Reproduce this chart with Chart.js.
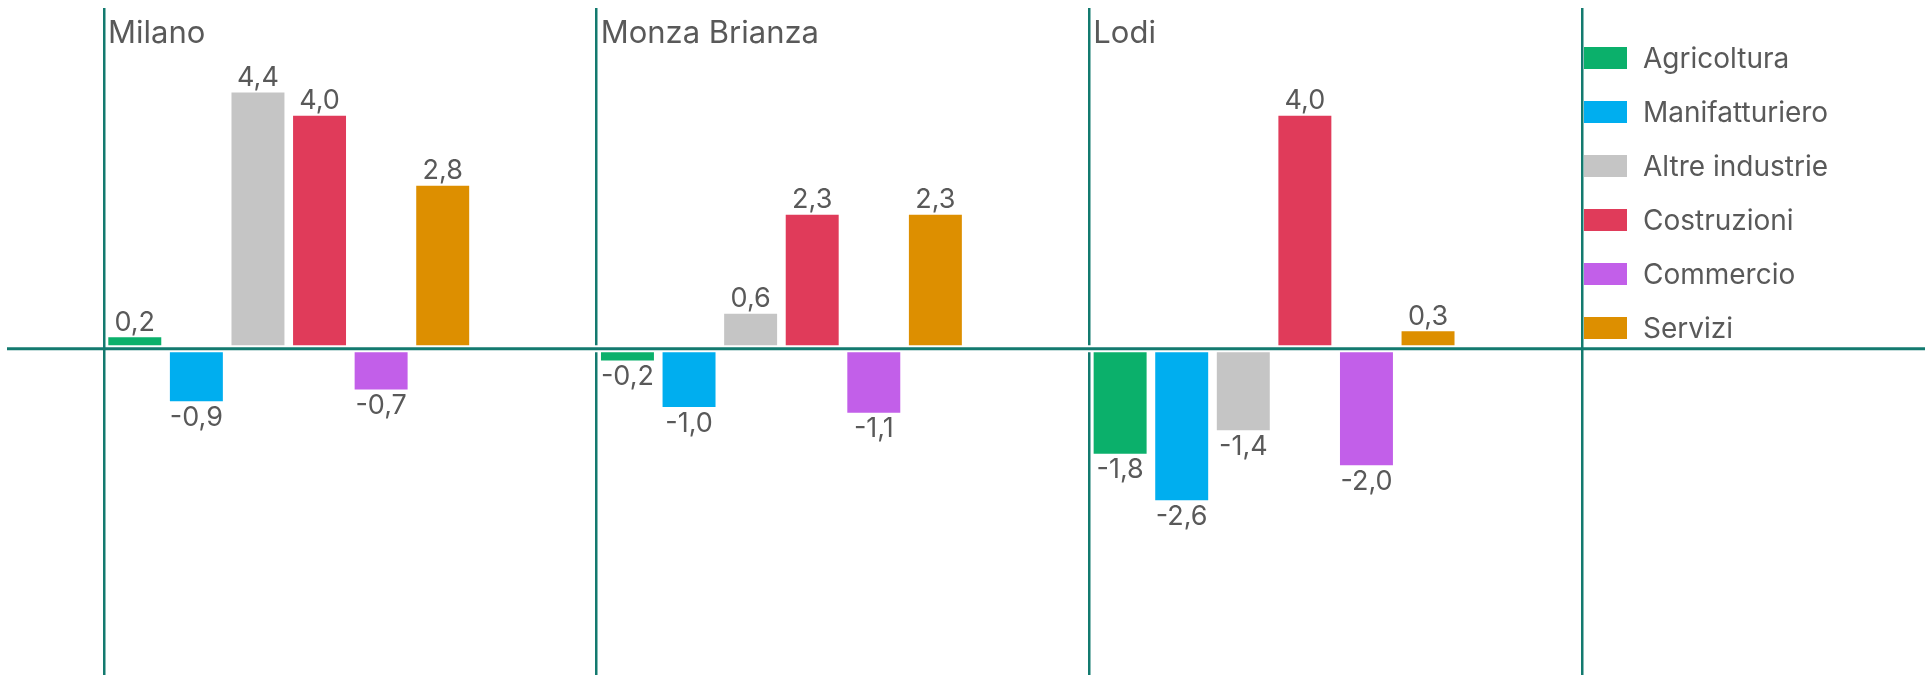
<!DOCTYPE html>
<html>
<head>
<meta charset="utf-8">
<script src="https://cdn.jsdelivr.net/npm/chart.js@4.4.1/dist/chart.umd.min.js"></script>
<style>
    html, body { margin: 0; padding: 0; background: #fff; }
    #wrap { position: relative; width: 1925px; height: 675px; }
    #legend { position: absolute; left: 1584px; top: 47px; font-family: Inter, sans-serif; font-size: 28px; color: #595959; }
    .item { display: flex; align-items: center; height: 22px; margin-bottom: 32px; white-space: nowrap; }
    .box { width: 43px; height: 22px; margin-right: 16px; flex: none; }
</style>
</head>
<body>
<div id="wrap">
    <canvas id="myChart" width="1925" height="675"></canvas>
    <div id="legend"></div>
</div>
<script>
// dati: variazione per settore e provincia
var regions = ['Milano', 'Monza Brianza', 'Lodi'];
var sectors = ['Agricoltura', 'Manifatturiero', 'Altre industrie', 'Costruzioni', 'Commercio', 'Servizi'];
var agricoltura = [0.2, -0.2, -1.8];
var manifatturiero = [-0.9, -1.0, -2.6];
var altreIndustrie = [4.4, 0.6, -1.4];
var costruzioni = [4.0, 2.3, 4.0];
var commercio = [-0.7, -1.1, -2.0];
var servizi = [2.8, 2.3, 0.3];
var sectorValues = [agricoltura, manifatturiero, altreIndustrie, costruzioni, commercio, servizi];
var sectorColors = ['#0bb06b', '#00aeef', '#c5c5c5', '#e03b5a', '#c25fe9', '#dd8f00'];

var lineColor = '#137a6f';
var textColor = '#595959';
var fontFamily = 'Inter, sans-serif';

// legenda html
var legendEl = document.getElementById('legend');
sectors.forEach(function (name, i) {
    var item = document.createElement('div');
    item.className = 'item';
    var box = document.createElement('span');
    box.className = 'box';
    box.style.background = sectorColors[i];
    var label = document.createElement('span');
    label.textContent = name;
    item.appendChild(box);
    item.appendChild(label);
    legendEl.appendChild(item);
});

var datasets = sectors.map(function (name, i) {
    return {
        label: name,
        data: sectorValues[i],
        backgroundColor: sectorColors[i],
        borderWidth: 0,
        categoryPercentage: 1,
        barPercentage: 0.86
    };
});
// due serie vuote per lasciare lo spazio a destra di ogni gruppo
for (var k = 0; k < 2; k++) {
    datasets.push({ label: '', isPad: true, data: [0, 0, 0], backgroundColor: 'rgba(0,0,0,0)', categoryPercentage: 1, barPercentage: 0.86 });
}

function fmt(v) {
    return v.toFixed(1).replace('.', ',');
}

var decorations = {
    id: 'decorations',
    afterDatasetsDraw: function (chart) {
        var ctx = chart.ctx;
        var x = chart.scales.x;
        var y = chart.scales.y;
        ctx.save();

        // linea dello zero su tutta la larghezza (con un piccolo stacco bianco dalle barre)
        var y0 = y.getPixelForValue(0);
        ctx.strokeStyle = '#ffffff';
        ctx.lineWidth = 7;
        ctx.beginPath();
        ctx.moveTo(x.left + 2, y0);
        ctx.lineTo(x.right - 2, y0);
        ctx.stroke();
        ctx.strokeStyle = lineColor;
        ctx.lineWidth = 3;
        ctx.beginPath();
        ctx.moveTo(7, y0);
        ctx.lineTo(chart.width, y0);
        ctx.stroke();

        // etichette dei valori
        ctx.fillStyle = textColor;
        ctx.font = '27px ' + fontFamily;
        ctx.textAlign = 'center';
        chart.data.datasets.forEach(function (ds, i) {
            if (ds.isPad) return;
            chart.getDatasetMeta(i).data.forEach(function (bar, j) {
                var v = ds.data[j];
                if (v >= 0) {
                    ctx.textBaseline = 'bottom';
                    ctx.fillText(fmt(v), bar.x, bar.y - 1);
                } else {
                    ctx.textBaseline = 'top';
                    ctx.fillText(fmt(v), bar.x, bar.y + 3);
                }
            });
        });

        // nomi delle province in alto a sinistra di ogni gruppo
        var catW = (x.right - x.left) / regions.length;
        ctx.font = '31px ' + fontFamily;
        ctx.textAlign = 'left';
        ctx.textBaseline = 'alphabetic';
        regions.forEach(function (name, i) {
            ctx.fillText(name, x.getPixelForTick(i) - catW / 2 + 4, chart.chartArea.top + 35);
        });
        ctx.restore();
    }
};

document.addEventListener('DOMContentLoaded', function () {
    var ctx = document.getElementById('myChart').getContext('2d');
    new Chart(ctx, {
        type: 'bar',
        data: {
            labels: regions,
            datasets: datasets
        },
        options: {
            responsive: false,
            animation: false,
            devicePixelRatio: 1,
            layout: {
                padding: { left: 104, right: 343, top: 8, bottom: 0 }
            },
            plugins: {
                legend: { display: false },
                tooltip: { enabled: false }
            },
            scales: {
                x: {
                    grid: { offset: true, color: lineColor, lineWidth: 2.5, drawTicks: false },
                    border: { display: false },
                    ticks: { display: false }
                },
                y: {
                    display: false,
                    min: -5.6,
                    max: 5.85
                }
            }
        },
        plugins: [decorations]
    });
});
</script>
</body>
</html>
